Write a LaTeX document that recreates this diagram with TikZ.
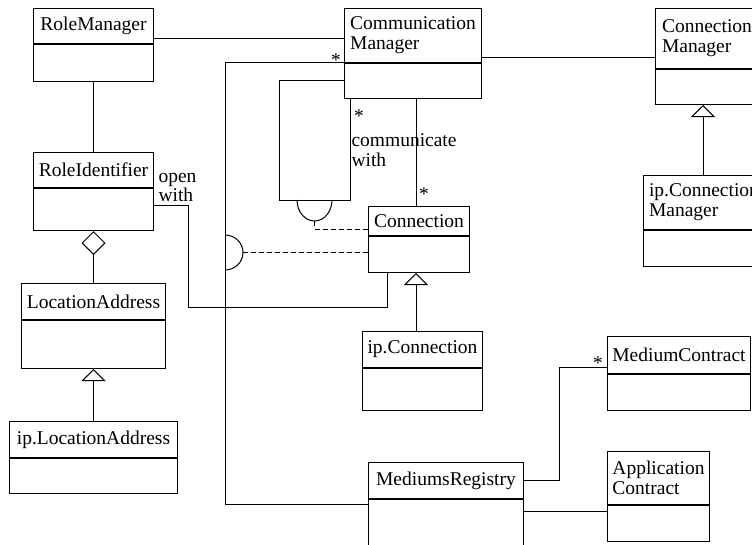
\documentclass[tikz,border=0pt]{standalone}
\usepackage{fontspec}
\setmainfont{Liberation Serif}
\usetikzlibrary{arrows.meta}

\begin{document}
\begin{tikzpicture}[x=1pt, y=-1pt, line width=1pt,
        font=\fontsize{19.5}{20}\selectfont,
        nome/.style 2 args = {draw, rectangle, inner sep=0pt, minimum width=#1,
                              minimum height=#2, anchor=north west, align=left},
        corpo/.style 2 args = {draw, rectangle, inner sep=0pt, minimum width=#1,
                               minimum height=#2, anchor=north west},
        molt/.style = {inner sep=0pt},
        eredita/.style = {{Triangle[open, length=12pt, width=24pt]}-},
        aggrega/.style = {{Diamond[open, length=24pt, width=24pt]}-},
        richiesta/.style = {dash pattern=on 5pt off 3pt}]
    \useasboundingbox (0,0) rectangle (752,544);
    \clip (0,0) rectangle (752,544);

    % Classi
    \node[nome={120pt}{35pt}] (rm) at (33,8) {RoleManager};
    \node[corpo={120pt}{37pt}] (rmb) at (rm.south west) {};
    \node[nome={137pt}{54pt}] (cm) at (344,8) {Communication\\Manager};
    \node[corpo={137pt}{35pt}] (cmb) at (cm.south west) {};
    \node[nome={103pt}{60pt}] (cnm) at (655,8) {Connection\\Manager};
    \node[corpo={103pt}{35pt}] (cnmb) at (cnm.south west) {};
    \node[nome={121pt}{54pt}] (ipcm) at (643,175) {ip.Connection\\Manager};
    \node[corpo={121pt}{36pt}] (ipcmb) at (ipcm.south west) {};
    \node[nome={120pt}{35pt}] (ri) at (33,152) {RoleIdentifier};
    \node[corpo={120pt}{42pt}] (rib) at (ri.south west) {};
    \node[nome={144pt}{36pt}] (la) at (21,283) {LocationAddress};
    \node[corpo={144pt}{48pt}] (lab) at (la.south west) {};
    \node[nome={168pt}{36pt}] (ipla) at (9,421) {ip.LocationAddress};
    \node[corpo={168pt}{35pt}] (iplab) at (ipla.south west) {};
    \node[nome={101pt}{29pt}] (cn) at (368,206) {Connection};
    \node[corpo={101pt}{36pt}] (cnb) at (cn.south west) {};
    \node[nome={120pt}{36pt}] (ipcn) at (362,331) {ip.Connection};
    \node[corpo={120pt}{42pt}] (ipcnb) at (ipcn.south west) {};
    \node[nome={155pt}{36pt}] (mr) at (368,462) {MediumsRegistry};
    \node[corpo={155pt}{50pt}] (mrb) at (mr.south west) {};
    \node[nome={143pt}{37pt}] (mc) at (607,336) {MediumContract};
    \node[corpo={143pt}{36pt}] (mcb) at (mc.south west) {};
    \node[nome={102pt}{53pt}] (ac) at (607,451) {Application\\Contract};
    \node[corpo={102pt}{36pt}] (acb) at (ac.south west) {};

    % Associazioni
    \draw (rm.east |- 0,38) -- (cm.west |- 0,38);
    \draw (rmb.south) -- (ri.north);
    \draw (cm.east |- 0,57) -- (cnm.west |- 0,57);
    \draw[aggrega] (rib.south) -- (la.north);
    \draw[eredita] (lab.south) -- (ipla.north);
    \draw[eredita] (cnmb.south -| 703,0) -- (ipcm.north -| 703,0);
    \draw[eredita] (cnb.south -| 416,0) -- (ipcn.north -| 416,0);
    \draw (cmb.south -| 416,0) -- (cn.north -| 416,0);
    \draw (cmb.west |- 0,80) -| (279,200) -| (cmb.south -| 350,0);
    \draw (rib.east |- 0,205) -| (188,307) -| (cnb.south -| 387,0);
    \draw (cm.west |- 0,62) -| (225,504) -- (mrb.west |- 0,504);
    \draw (mr.east |- 0,480) -| (559,367) -- (mc.west |- 0,367);
    \draw (mrb.east |- 0,511) -- (acb.west |- 0,511);

    % Interfacce richieste
    \coordinate (req1) at (314.5,221);
    \coordinate (req2) at (243,252.5);
    \draw (297,200) arc[start angle=180, end angle=360, x radius=17.5pt, y radius=21pt];
    \draw (225,235) arc[start angle=90, end angle=-90, x radius=18pt, y radius=17.5pt];
    \draw[richiesta] (req1) |- (cn.west |- 0,229);
    \draw[richiesta] (req2) -- (cnb.west |- req2);

    % Etichette
    \node[molt] (m1) at (336,60) {*};
    \node[molt] (m2) at (359,116) {*};
    \node[molt] (m3) at (424,194) {*};
    \node[molt] (m4) at (598,363) {*};
    \node[molt, anchor=north west, align=left] (comm) at (351,133) {communicate\\with};
    \node[molt, anchor=north west, align=left, font=\fontsize{19.5}{17}\selectfont]
        (apre) at (158,173) {open\\with};
\end{tikzpicture}
\end{document}
